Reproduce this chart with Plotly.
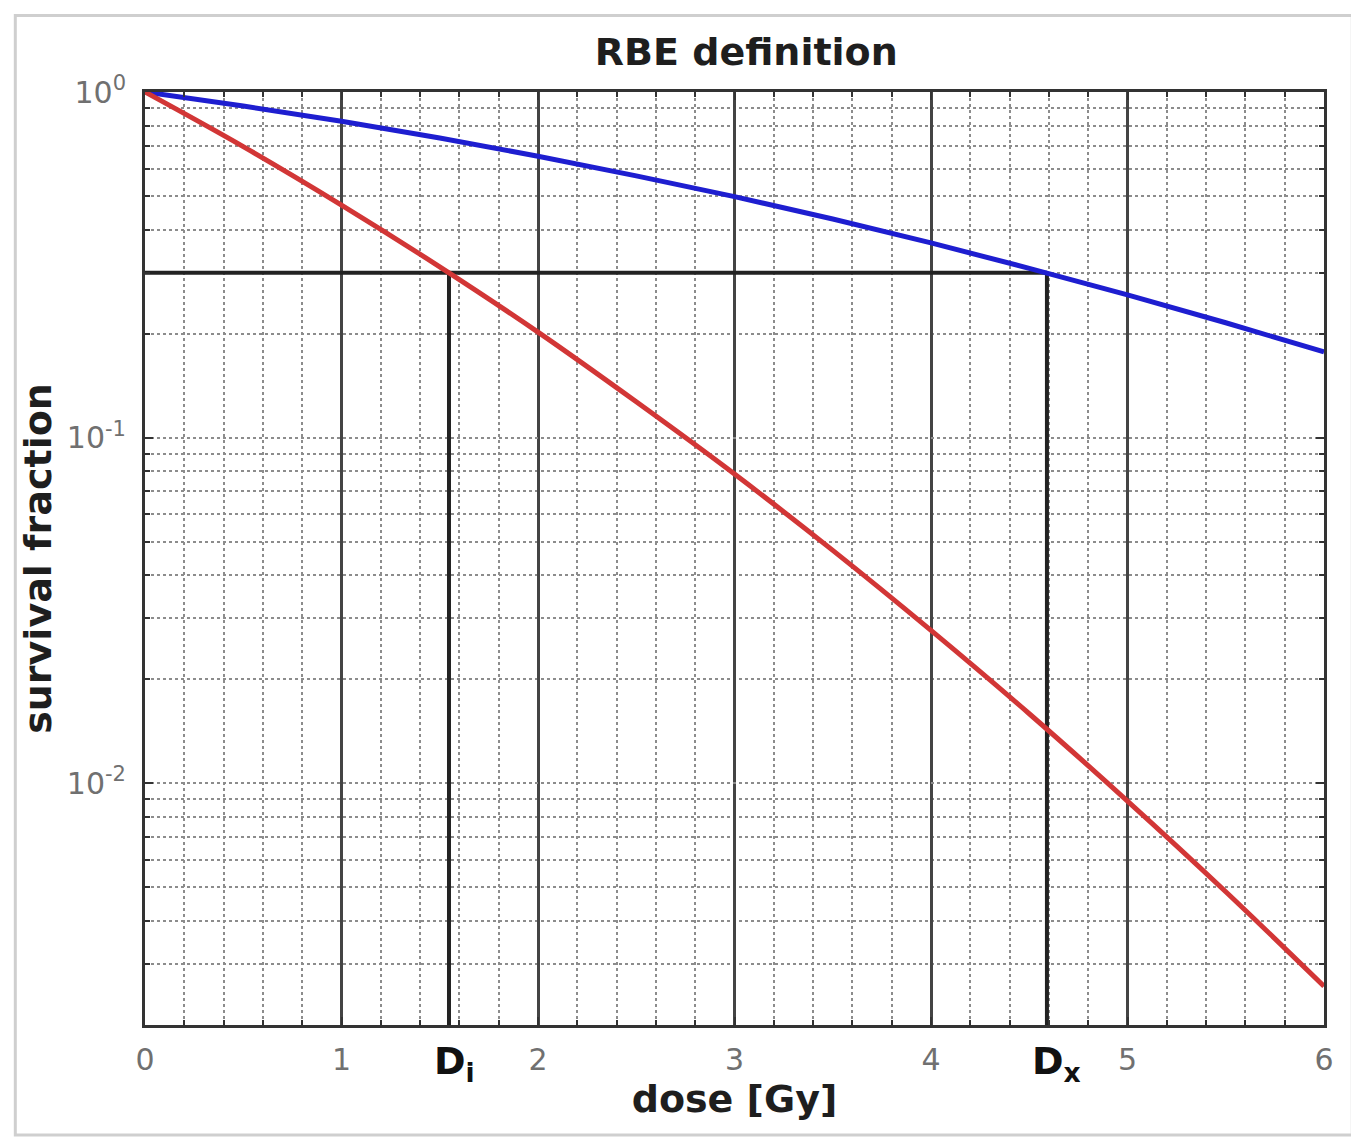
import math
import plotly.graph_objects as go

# ---- data ----
dose = [0, 0.5, 1, 1.5, 2, 2.5, 3, 3.5, 4, 4.5, 5, 5.5, 6]
survival_blue = [1.0, 0.911, 0.823, 0.736, 0.652, 0.572, 0.498, 0.429, 0.366, 0.309, 0.259, 0.215, 0.177]
survival_red = [1.0, 0.695, 0.471, 0.312, 0.202, 0.127, 0.0785, 0.0472, 0.0277, 0.0159, 0.00889, 0.00486, 0.00259]

ref_level = 0.3
D_i = 1.547
D_x = 4.59
y_min = 0.002

x_tickvals = [0, 1, 2, 3, 4, 5, 6]
x_ticktext = ["0", "1", "2", "3", "4", "5", "6"]
y_tickvals = [0.01, 0.1, 1]
y_ticktext = ["10<sup>-2</sup>", "10<sup>-1</sup>", "10<sup>0</sup>"]

title_text = "RBE definition"
x_title = "dose [Gy]"
y_title = "survival fraction"

fig = go.Figure()

# reference lines (iso-effect level and the two doses)
fig.add_trace(go.Scatter(x=[0, D_x], y=[ref_level, ref_level], mode="lines",
                         line=dict(color="#222222", width=4), showlegend=False, hoverinfo="skip"))
fig.add_trace(go.Scatter(x=[D_i, D_i], y=[ref_level, y_min], mode="lines",
                         line=dict(color="#222222", width=4), showlegend=False, hoverinfo="skip"))
fig.add_trace(go.Scatter(x=[D_x, D_x], y=[ref_level, y_min], mode="lines",
                         line=dict(color="#222222", width=4), showlegend=False, hoverinfo="skip"))

# survival curves
fig.add_trace(go.Scatter(x=dose, y=survival_blue, mode="lines", line_shape="spline",
                         line=dict(color="#1e1ed0", width=5), showlegend=False))
fig.add_trace(go.Scatter(x=dose, y=survival_red, mode="lines", line_shape="spline",
                         line=dict(color="#d23636", width=5), showlegend=False))

grid_dot = "#8c8c8c"

fig.update_xaxes(
    range=[0, 6], tickvals=x_tickvals, ticktext=x_ticktext,
    tickfont=dict(family="DejaVu Sans", size=30, color="#707070"),
    ticks="inside", ticklen=8, tickwidth=2, tickcolor="#333333",
    showgrid=True, gridcolor="#444444", gridwidth=3,
    showline=True, linecolor="#333333", linewidth=3, mirror="allticks",
    minor=dict(dtick=0.2, showgrid=True, gridcolor=grid_dot, gridwidth=1.5, griddash="dot",
               ticks="inside", ticklen=5, tickcolor="#333333"),
    zeroline=False,
    title=dict(text="<b>" + x_title + "</b>", font=dict(family="DejaVu Sans", size=38, color="#1e1e1e"), standoff=8),
    ticklabelstandoff=6,
)

fig.update_yaxes(
    type="log", range=[math.log10(y_min), 0], tickvals=y_tickvals, ticktext=y_ticktext,
    tickfont=dict(family="DejaVu Sans", size=30, color="#707070"),
    ticks="inside", ticklen=8, tickwidth=2, tickcolor="#333333",
    showgrid=True, gridcolor=grid_dot, gridwidth=1.5, griddash="dot",
    showline=True, linecolor="#333333", linewidth=3, mirror="allticks",
    minor=dict(dtick="D1", showgrid=True, gridcolor=grid_dot, gridwidth=1.5, griddash="dot",
               ticks="inside", ticklen=5, tickcolor="#333333"),
    zeroline=False,
    title=dict(text="<b>" + y_title + "</b>", font=dict(family="DejaVu Sans", size=38, color="#1e1e1e"), standoff=4),
    ticklabelstandoff=10,
)

# D_i and D_x labels on the dose axis
for xv, sub in [(D_i, "i"), (D_x, "x")]:
    fig.add_annotation(x=xv, y=0, xref="x", yref="paper", yanchor="top", xanchor="left",
                       xshift=-17, yshift=-12, showarrow=False,
                       text="<b>D</b><sub><b>" + sub + "</b></sub>",
                       font=dict(family="DejaVu Sans", size=38, color="#111111"))

# outer light frame
fig.add_shape(type="rect", xref="paper", yref="paper", x0=-0.11, x1=1.024, y0=-0.118, y1=1.082,
              line=dict(color="#cfcfcf", width=3), layer="below")

fig.update_layout(
    width=1359, height=1139,
    margin=dict(l=137, r=43, t=84, b=122),
    paper_bgcolor="white", plot_bgcolor="white",
    title=dict(text="<b>" + title_text + "</b>", x=0.51, xref="paper", xanchor="center",
               y=1 - 44 / 1139, yref="container", yanchor="middle",
               font=dict(family="DejaVu Sans", size=38, color="#1e1e1e")),
)

fig.write_html("out.html")
